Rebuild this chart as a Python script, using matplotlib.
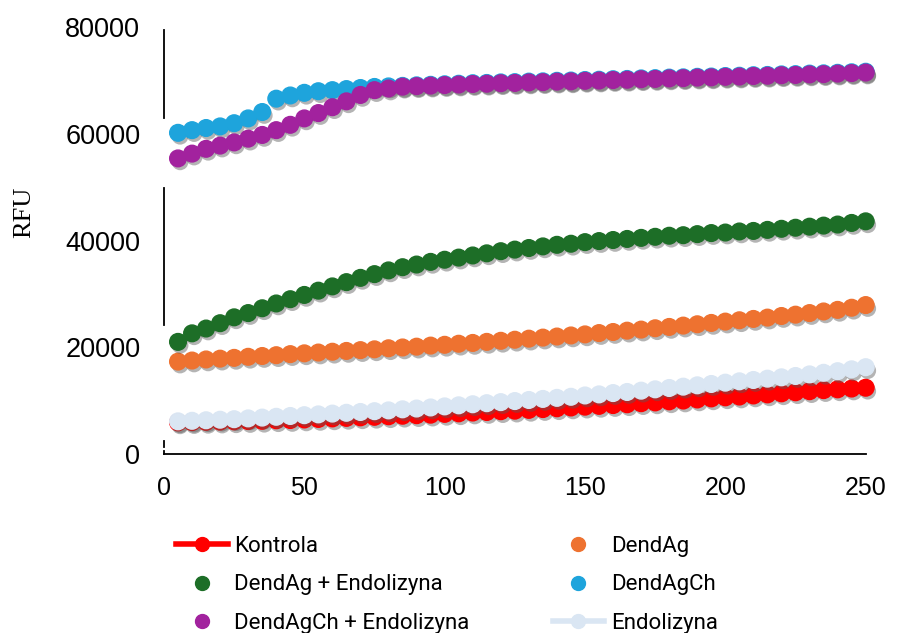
import matplotlib
matplotlib.use("Agg")
import matplotlib.pyplot as plt
import matplotlib.patheffects as pe

# --- data
time = [5, 10, 15, 20, 25, 30, 35, 40, 45, 50, 55, 60, 65, 70, 75, 80, 85, 90, 95, 100,
        105, 110, 115, 120, 125, 130, 135, 140, 145, 150, 155, 160, 165, 170, 175, 180,
        185, 190, 195, 200, 205, 210, 215, 220, 225, 230, 235, 240, 245, 250]

kontrola = [5900, 5950, 6000, 6050, 6100, 6150, 6200, 6300, 6350, 6450, 6550, 6650, 6750,
            6850, 6950, 7050, 7150, 7250, 7350, 7500, 7600, 7750, 7850, 8000, 8100, 8250,
            8400, 8550, 8700, 8850, 9000, 9150, 9300, 9500, 9650, 9850, 10000, 10200, 10400,
            10600, 10750, 10950, 11150, 11350, 11550, 11750, 11950, 12100, 12250, 12400]

dendag = [17300, 17500, 17700, 17850, 18000, 18200, 18350, 18500, 18700, 18850, 19000, 19150,
          19300, 19450, 19600, 19800, 19950, 20100, 20300, 20450, 20650, 20800, 21000, 21200,
          21400, 21600, 21800, 22000, 22200, 22400, 22650, 22850, 23100, 23300, 23550, 23800,
          24050, 24300, 24550, 24800, 25050, 25300, 25550, 25850, 26100, 26400, 26700, 27000,
          27400, 27900]

dendag_endo = [21000, 22600, 23500, 24500, 25600, 26400, 27300, 28200, 29000, 29800, 30600,
               31400, 32200, 33000, 33700, 34400, 35000, 35500, 36000, 36400, 36800, 37200,
               37600, 38000, 38300, 38600, 38900, 39200, 39400, 39700, 39900, 40100, 40300,
               40500, 40700, 40900, 41000, 41200, 41400, 41500, 41700, 41800, 42000, 42200,
               42400, 42600, 42800, 43000, 43300, 43600]

dendagch = [60200, 60700, 61100, 61400, 62000, 62900, 64100, 66600, 67200, 67700, 68000,
            68200, 68400, 68600, 68800, 68900, 69000, 69100, 69200, 69300, 69400, 69500,
            69550, 69650, 69700, 69800, 69850, 69950, 70000, 70100, 70150, 70250, 70300,
            70400, 70450, 70550, 70600, 70700, 70750, 70850, 70900, 71000, 71050, 71150,
            71200, 71300, 71350, 71450, 71550, 71650]

dendagch_endo = [55400, 56300, 57200, 57800, 58400, 59100, 59800, 60700, 61700, 62900, 63900,
                 65000, 66100, 67300, 68200, 68500, 68850, 68950, 69050, 69150, 69250, 69350,
                 69400, 69500, 69550, 69650, 69700, 69800, 69850, 69950, 70000, 70100, 70150,
                 70250, 70300, 70400, 70450, 70550, 70600, 70700, 70750, 70850, 70900, 71000,
                 71050, 71150, 71200, 71300, 71400, 71500]

endolizyna = [6100, 6200, 6300, 6400, 6500, 6650, 6800, 6950, 7100, 7250, 7400, 7550, 7700,
              7850, 8000, 8150, 8350, 8500, 8700, 8900, 9100, 9300, 9500, 9700, 9900, 10100,
              10300, 10500, 10700, 10950, 11150, 11400, 11600, 11850, 12100, 12350, 12600,
              12850, 13100, 13350, 13600, 13850, 14100, 14350, 14600, 14900, 15200, 15500,
              15850, 16250]

x_ticks = [0, 50, 100, 150, 200, 250]
y_ticks = [0, 20000, 40000, 60000, 80000]

plt.rcParams["font.family"] = "Liberation Sans"

fig = plt.figure(figsize=(9.06, 6.33), dpi=100)
ax = fig.add_axes([0.181, 0.283, 0.790, 0.674])

shadow = [pe.withSimplePatchShadow(offset=(1.5, -2.5), shadow_rgbFace="0.35", alpha=0.45)]

series = [
    ("Kontrola", kontrola, "#FF0000", True),
    ("DendAg", dendag, "#EE7230", False),
    ("DendAg + Endolizyna", dendag_endo, "#1D6E27", False),
    ("DendAgCh", dendagch, "#1EA4DC", False),
    ("DendAgCh + Endolizyna", dendagch_endo, "#A2229E", False),
    ("Endolizyna", endolizyna, "#DAE6F3", True),
]

z = 3
for label, vals, col, with_line in series:
    if with_line:
        ax.plot(time, vals, color=col, lw=4, zorder=z)
    ax.plot(time, vals, marker="o", ms=12, ls="none", color=col, mec=col,
            path_effects=shadow, zorder=z + 0.5)
    z += 1

# legend handles (no shadow)
handles = []
for label, vals, col, with_line in series:
    h, = ax.plot([], [], marker="o", ms=10, color=col, mec=col,
                 lw=4 if with_line else 0, label=label)
    handles.append(h)

ax.set_xlim(0, 255)
ax.set_ylim(0, 80000)
ax.set_xticks(x_ticks)
ax.set_yticks(y_ticks)
ax.tick_params(axis="both", length=0)
ax.tick_params(axis="y", pad=17, labelsize=19.5)
ax.tick_params(axis="x", pad=16, labelsize=18)

for s in ["top", "right", "left"]:
    ax.spines[s].set_visible(False)
ax.spines["bottom"].set_bounds(0, 250)
ax.spines["bottom"].set_linewidth(1.3)

# broken left axis line as in the reference
for y0, y1 in [(63000, 79500), (24200, 49900), (1200, 2500), (0, 600)]:
    ax.plot([0, 0], [y0, y1], color="black", lw=1.3, clip_on=False, zorder=1)

ax.set_ylabel("RFU", fontfamily="Liberation Serif", fontsize=19)
ax.yaxis.set_label_coords(-0.18, 0.565)

fig.legend(handles=[handles[0], handles[2], handles[4], handles[1], handles[3], handles[5]],
           loc="upper left", bbox_to_anchor=(0.185, 0.168), ncol=2, frameon=False,
           prop={"family": "Roboto", "size": 16}, handlelength=2.3,
           handletextpad=0.3, columnspacing=3.75, labelspacing=0.8, borderaxespad=0)

fig.savefig("out.png", dpi=100)
